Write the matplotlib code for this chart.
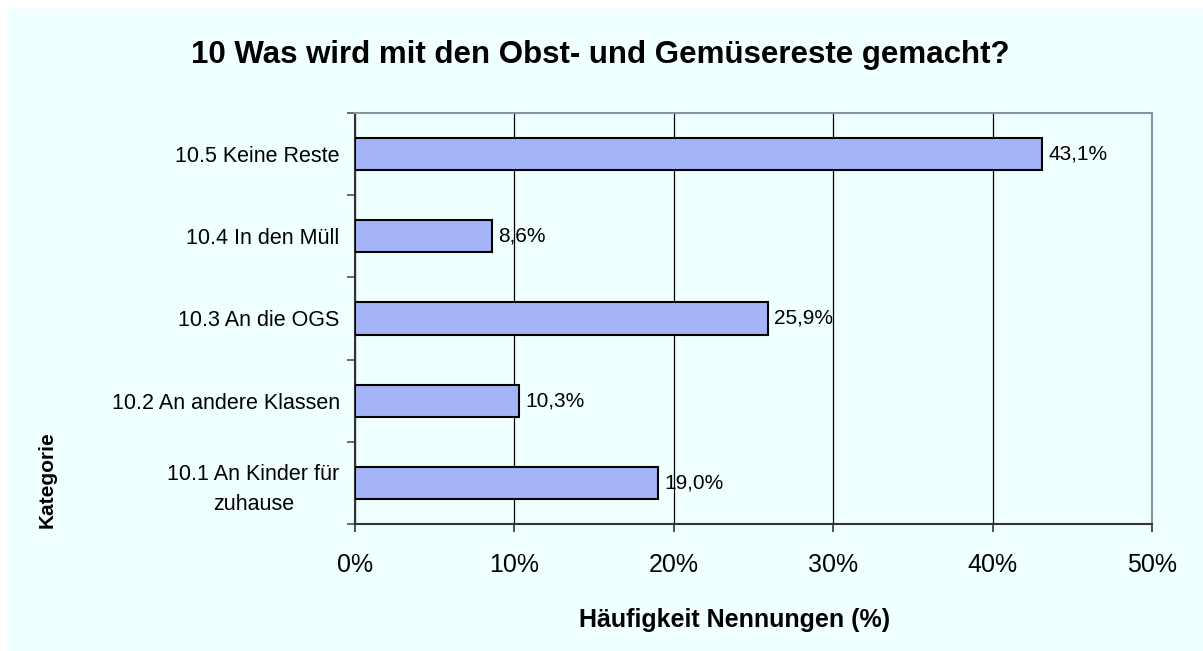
import matplotlib
matplotlib.use("Agg")
import matplotlib.pyplot as plt
from matplotlib.patches import Rectangle

categories = ["10.1 An Kinder für\nzuhause", "10.2 An andere Klassen", "10.3 An die OGS",
              "10.4 In den Müll", "10.5 Keine Reste"]
values = [19.0, 10.3, 25.9, 8.6, 43.1]
value_labels = ["19,0%", "10,3%", "25,9%", "8,6%", "43,1%"]
xticks = [0, 10, 20, 30, 40, 50]
xtick_labels = ["0%", "10%", "20%", "30%", "40%", "50%"]

plt.rcParams['font.family'] = ['Liberation Sans', 'DejaVu Sans']

W, H = 1203, 651
fig = plt.figure(figsize=(W / 100, H / 100), dpi=100, facecolor="white")
bg = "#F0FFFF"
fig.patches.append(Rectangle((8 / W, 0), 1 - 8 / W, 1 - 9 / H, transform=fig.transFigure,
                             facecolor=bg, edgecolor="none", zorder=-10))

x0, x1, y0, y1 = 355, 1152, 113, 524
ax = fig.add_axes([x0 / W, 1 - y1 / H, (x1 - x0) / W, (y1 - y0) / H])
ax.set_facecolor(bg)

pos = list(range(len(categories)))
ax.barh(pos, values, height=0.39, color="#A4B4F8", edgecolor="black", linewidth=1.5, zorder=3)
for p, v, lab in zip(pos, values, value_labels):
    ax.text(v + 0.4, p, lab, va="center", ha="left", fontsize=15, zorder=4)

ax.set_xlim(0, 50)
ax.set_ylim(-0.5, len(categories) - 0.5)
ax.set_xticks(xticks)
ax.set_xticklabels(xtick_labels, fontsize=18)
ax.tick_params(axis="x", direction="out", length=6, width=1.2, pad=15, color="#333333")

ax.set_yticks(pos)
ax.set_yticklabels(categories, fontsize=15.5, ha="right", multialignment="center",
                   linespacing=1.55)
ax.tick_params(axis="y", length=0, pad=11)
ax.set_yticks([p - 0.5 for p in pos] + [len(pos) - 0.5], minor=True)
ax.tick_params(axis="y", which="minor", direction="out", length=6, width=1.2, color="#555555")

ax.grid(axis="x", color="black", linewidth=0.9, zorder=0)
for s in ["top", "right"]:
    ax.spines[s].set_color("#8894A4")
    ax.spines[s].set_linewidth(1.5)
ax.spines["left"].set_color("#333333")
ax.spines["left"].set_linewidth(1.5)
ax.spines["bottom"].set_color("#333333")
ax.spines["bottom"].set_linewidth(1.5)

fig.text(600 / W, 1 - 55 / H, "10 Was wird mit den Obst- und Gemüsereste gemacht?",
         ha="center", va="center", fontsize=22.5, fontweight="bold")
fig.text(735 / W, 1 - 620 / H, "Häufigkeit Nennungen (%)", ha="center", va="center",
         fontsize=18, fontweight="bold")
fig.text(47 / W, 1 - 480 / H, "Kategorie", ha="center", va="center", rotation=90,
         fontsize=15, fontweight="bold")

fig.savefig("out.png", dpi=100, facecolor="white")
